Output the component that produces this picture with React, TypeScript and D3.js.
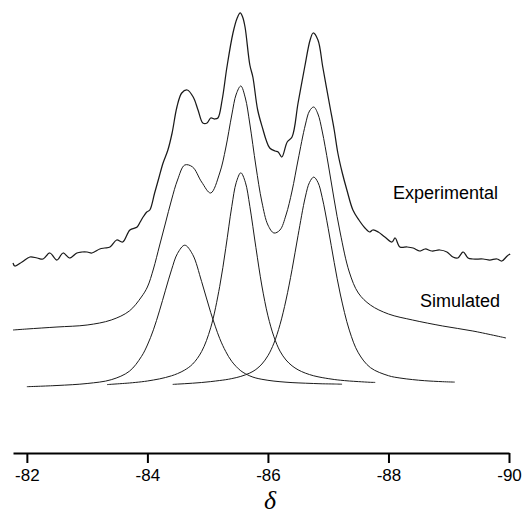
import { useEffect, useRef } from 'react';
import * as d3 from 'd3';

// chemical shift (ppm) and intensity
const experimental: [number, number][] = [
  [-81.77, -1], [-81.8, -4], [-81.92, 0], [-82.05, 5], [-82.17, 4], [-82.27, 3],
  [-82.38, 9], [-82.5, 2], [-82.6, 9], [-82.71, 4], [-82.83, 9], [-82.91, 10],
  [-83.0, 10], [-83.08, 9], [-83.21, 13], [-83.29, 14], [-83.38, 15], [-83.49, 22],
  [-83.59, 20], [-83.71, 32], [-83.83, 35], [-83.88, 40], [-83.94, 46], [-83.99, 50],
  [-84.04, 52], [-84.12, 69], [-84.19, 84], [-84.26, 99], [-84.34, 112], [-84.41, 129],
  [-84.49, 155], [-84.57, 169], [-84.66, 172], [-84.76, 165], [-84.84, 152], [-84.92, 139],
  [-84.99, 139], [-85.05, 144], [-85.12, 143], [-85.17, 144], [-85.24, 162], [-85.32, 195],
  [-85.42, 229], [-85.49, 244], [-85.54, 249], [-85.58, 245], [-85.62, 235], [-85.7, 197],
  [-85.75, 185], [-85.83, 152], [-85.92, 132], [-85.97, 122], [-86.03, 114], [-86.12, 111],
  [-86.17, 110], [-86.23, 105], [-86.32, 120], [-86.4, 125], [-86.5, 159], [-86.61, 195],
  [-86.7, 222], [-86.75, 229], [-86.83, 222], [-86.91, 195], [-87.03, 155], [-87.1, 132],
  [-87.16, 109], [-87.23, 90], [-87.31, 72], [-87.41, 52], [-87.51, 42], [-87.61, 34],
  [-87.69, 30], [-87.74, 32], [-87.83, 30], [-87.94, 25], [-88.06, 20], [-88.11, 24],
  [-88.19, 15], [-88.31, 15], [-88.41, 14], [-88.52, 11], [-88.61, 13], [-88.72, 11],
  [-88.85, 12], [-88.97, 10], [-89.07, 5], [-89.15, 4], [-89.24, 10], [-89.32, 4],
  [-89.4, 3], [-89.57, 3], [-89.68, 2], [-89.8, 3], [-89.88, 1], [-89.97, 6], [-90.02, 8],
];

const simulated: [number, number][] = [
  [-81.77, 3], [-82.0, 4], [-82.5, 6], [-83.0, 8], [-83.4, 13], [-83.7, 22],
  [-83.9, 36], [-84.0, 46], [-84.1, 64], [-84.2, 87], [-84.3, 110], [-84.4, 133],
  [-84.5, 153], [-84.62, 168], [-84.75, 166], [-84.9, 151], [-85.05, 140], [-85.2, 160],
  [-85.3, 185], [-85.4, 218], [-85.475, 239], [-85.55, 247], [-85.625, 235], [-85.7, 209],
  [-85.8, 167], [-85.9, 131], [-86.0, 108], [-86.1, 100], [-86.2, 103], [-86.3, 118],
  [-86.4, 142], [-86.5, 173], [-86.62, 208], [-86.69, 222], [-86.76, 226], [-86.83, 219],
  [-86.9, 202], [-87.0, 169], [-87.1, 133], [-87.2, 100], [-87.35, 61], [-87.5, 40],
  [-87.7, 28], [-88.0, 19], [-88.4, 13], [-88.9, 7], [-89.4, 2], [-89.95, -5],
];

const peak1: [number, number][] = [
  [-82.0, -2.7], [-82.5, -1.5], [-83.0, 0.5], [-83.4, 4.3], [-83.7, 12.7], [-83.9, 27.4],
  [-84.0, 39], [-84.1, 54.2], [-84.2, 73.1], [-84.3, 93.8], [-84.4, 114.1], [-84.5, 130.6],
  [-84.62, 138.8], [-84.75, 129.6], [-84.9, 102.4], [-85.05, 71.6], [-85.2, 45.5], [-85.3, 32.5],
  [-85.4, 22.6], [-85.55, 13.2], [-85.7, 8.1], [-85.8, 6], [-85.9, 4.7], [-86.0, 3.7],
  [-86.1, 2.9], [-86.2, 2.3], [-86.3, 1.8], [-86.4, 1.4], [-86.5, 1.1], [-86.62, 0.8],
  [-86.76, 0.5], [-86.9, 0.2], [-87.0, 0.1], [-87.1, 0], [-87.23, -0.2],
];

const peak2: [number, number][] = [
  [-83.33, -0.6], [-83.4, -0.3], [-83.7, 1], [-83.9, 2.2], [-84.0, 3], [-84.1, 4],
  [-84.2, 5.1], [-84.3, 6.5], [-84.4, 8.2], [-84.5, 10.4], [-84.62, 14], [-84.75, 19.9],
  [-84.9, 32.5], [-85.05, 56.2], [-85.2, 97.6], [-85.3, 135.7], [-85.4, 177.4], [-85.475, 201.7],
  [-85.55, 211.2], [-85.625, 201.8], [-85.7, 177.6], [-85.8, 136.6], [-85.9, 98], [-86.0, 68.2],
  [-86.1, 47.2], [-86.2, 32.9], [-86.3, 24], [-86.4, 18.2], [-86.5, 14.2], [-86.62, 10.9],
  [-86.76, 8.2], [-86.9, 6.4], [-87.0, 5.4], [-87.1, 4.5], [-87.2, 3.8], [-87.35, 3],
  [-87.5, 2.4], [-87.7, 1.7], [-87.78, 1.6],
];

const peak3: [number, number][] = [
  [-84.42, -0.4], [-84.5, -0.1], [-84.62, 0.3], [-84.75, 0.8], [-84.9, 1.5], [-85.05, 2.4],
  [-85.2, 3.5], [-85.3, 4.3], [-85.4, 5.4], [-85.55, 7.6], [-85.7, 11], [-85.8, 14.5],
  [-85.9, 20], [-86.0, 28.3], [-86.1, 40.9], [-86.2, 59.3], [-86.3, 84], [-86.4, 114.4],
  [-86.5, 148.6], [-86.62, 186.9], [-86.69, 201.6], [-86.76, 206.9], [-86.83, 201.6], [-86.9, 186.7],
  [-87.0, 155.7], [-87.1, 121.4], [-87.2, 90], [-87.35, 53.9], [-87.5, 31.2], [-87.7, 16.4],
  [-88.0, 8.3], [-88.19, 6], [-88.4, 4.4], [-88.6, 3.3], [-88.9, 2.3], [-89.1, 1.9],
];

const tickValues = [-82, -84, -86, -88, -90];

// vertical stacking of the traces
const simOffset = 51;
const expOffset = 122;

const App = () => {
  const svgRef = useRef<SVGSVGElement | null>(null);

  useEffect(() => {
    if (!svgRef.current) return;
    const svg = d3.select(svgRef.current);
    svg.selectAll('*').remove();

    const x = d3.scaleLinear().domain([-81.77, -90]).range([13, 509]);
    const y = d3.scaleLinear().domain([0, 380]).range([384, 4]);

    const lineAt = (offset: number) =>
      d3.line<[number, number]>()
        .x(d => x(d[0]))
        .y(d => y(d[1] + offset))
        .curve(d3.curveCatmullRom.alpha(0.5));

    const traces = [
      { data: peak1, offset: 0, width: 1 },
      { data: peak2, offset: 0, width: 1 },
      { data: peak3, offset: 0, width: 1 },
      { data: simulated, offset: simOffset, width: 1 },
      { data: experimental, offset: expOffset, width: 1.25 },
    ];

    svg.append('g')
      .selectAll('path')
      .data(traces)
      .enter()
      .append('path')
      .attr('d', d => lineAt(d.offset)(d.data))
      .attr('fill', 'none')
      .attr('stroke', '#1a1a1a')
      .attr('stroke-width', d => d.width);

    const axis = d3.axisBottom(x)
      .tickValues(tickValues)
      .tickSize(10)
      .tickSizeOuter(0)
      .tickPadding(6)
      .tickFormat(d => String(d));

    const g = svg.append('g')
      .attr('transform', 'translate(0, 453)')
      .call(axis);
    g.select('.domain').attr('stroke', '#000').attr('stroke-width', 2);
    g.selectAll('.tick line').attr('stroke', '#000').attr('stroke-width', 2);
    g.selectAll('.tick text')
      .attr('fill', '#000')
      .style('font-family', '"Liberation Sans", Arial, sans-serif')
      .style('font-size', '17px');

    svg.append('text')
      .attr('x', 270)
      .attr('y', 509)
      .attr('text-anchor', 'middle')
      .style('font-family', '"Liberation Serif", "Times New Roman", serif')
      .style('font-style', 'italic')
      .style('font-size', '26px')
      .text('δ');

    const labels = [
      { text: 'Experimental', x: 393, y: 199 },
      { text: 'Simulated', x: 420, y: 307 },
    ];
    svg.append('g')
      .selectAll('text')
      .data(labels)
      .enter()
      .append('text')
      .attr('x', d => d.x)
      .attr('y', d => d.y)
      .style('font-family', '"Liberation Sans", Arial, sans-serif')
      .style('font-size', '18px')
      .text(d => d.text);
  }, []);

  return (
    <svg
      ref={svgRef}
      width={528}
      height={514}
      style={{ position: 'absolute', left: 0, top: 0, background: '#fff' }}
    />
  );
};

export default App;
